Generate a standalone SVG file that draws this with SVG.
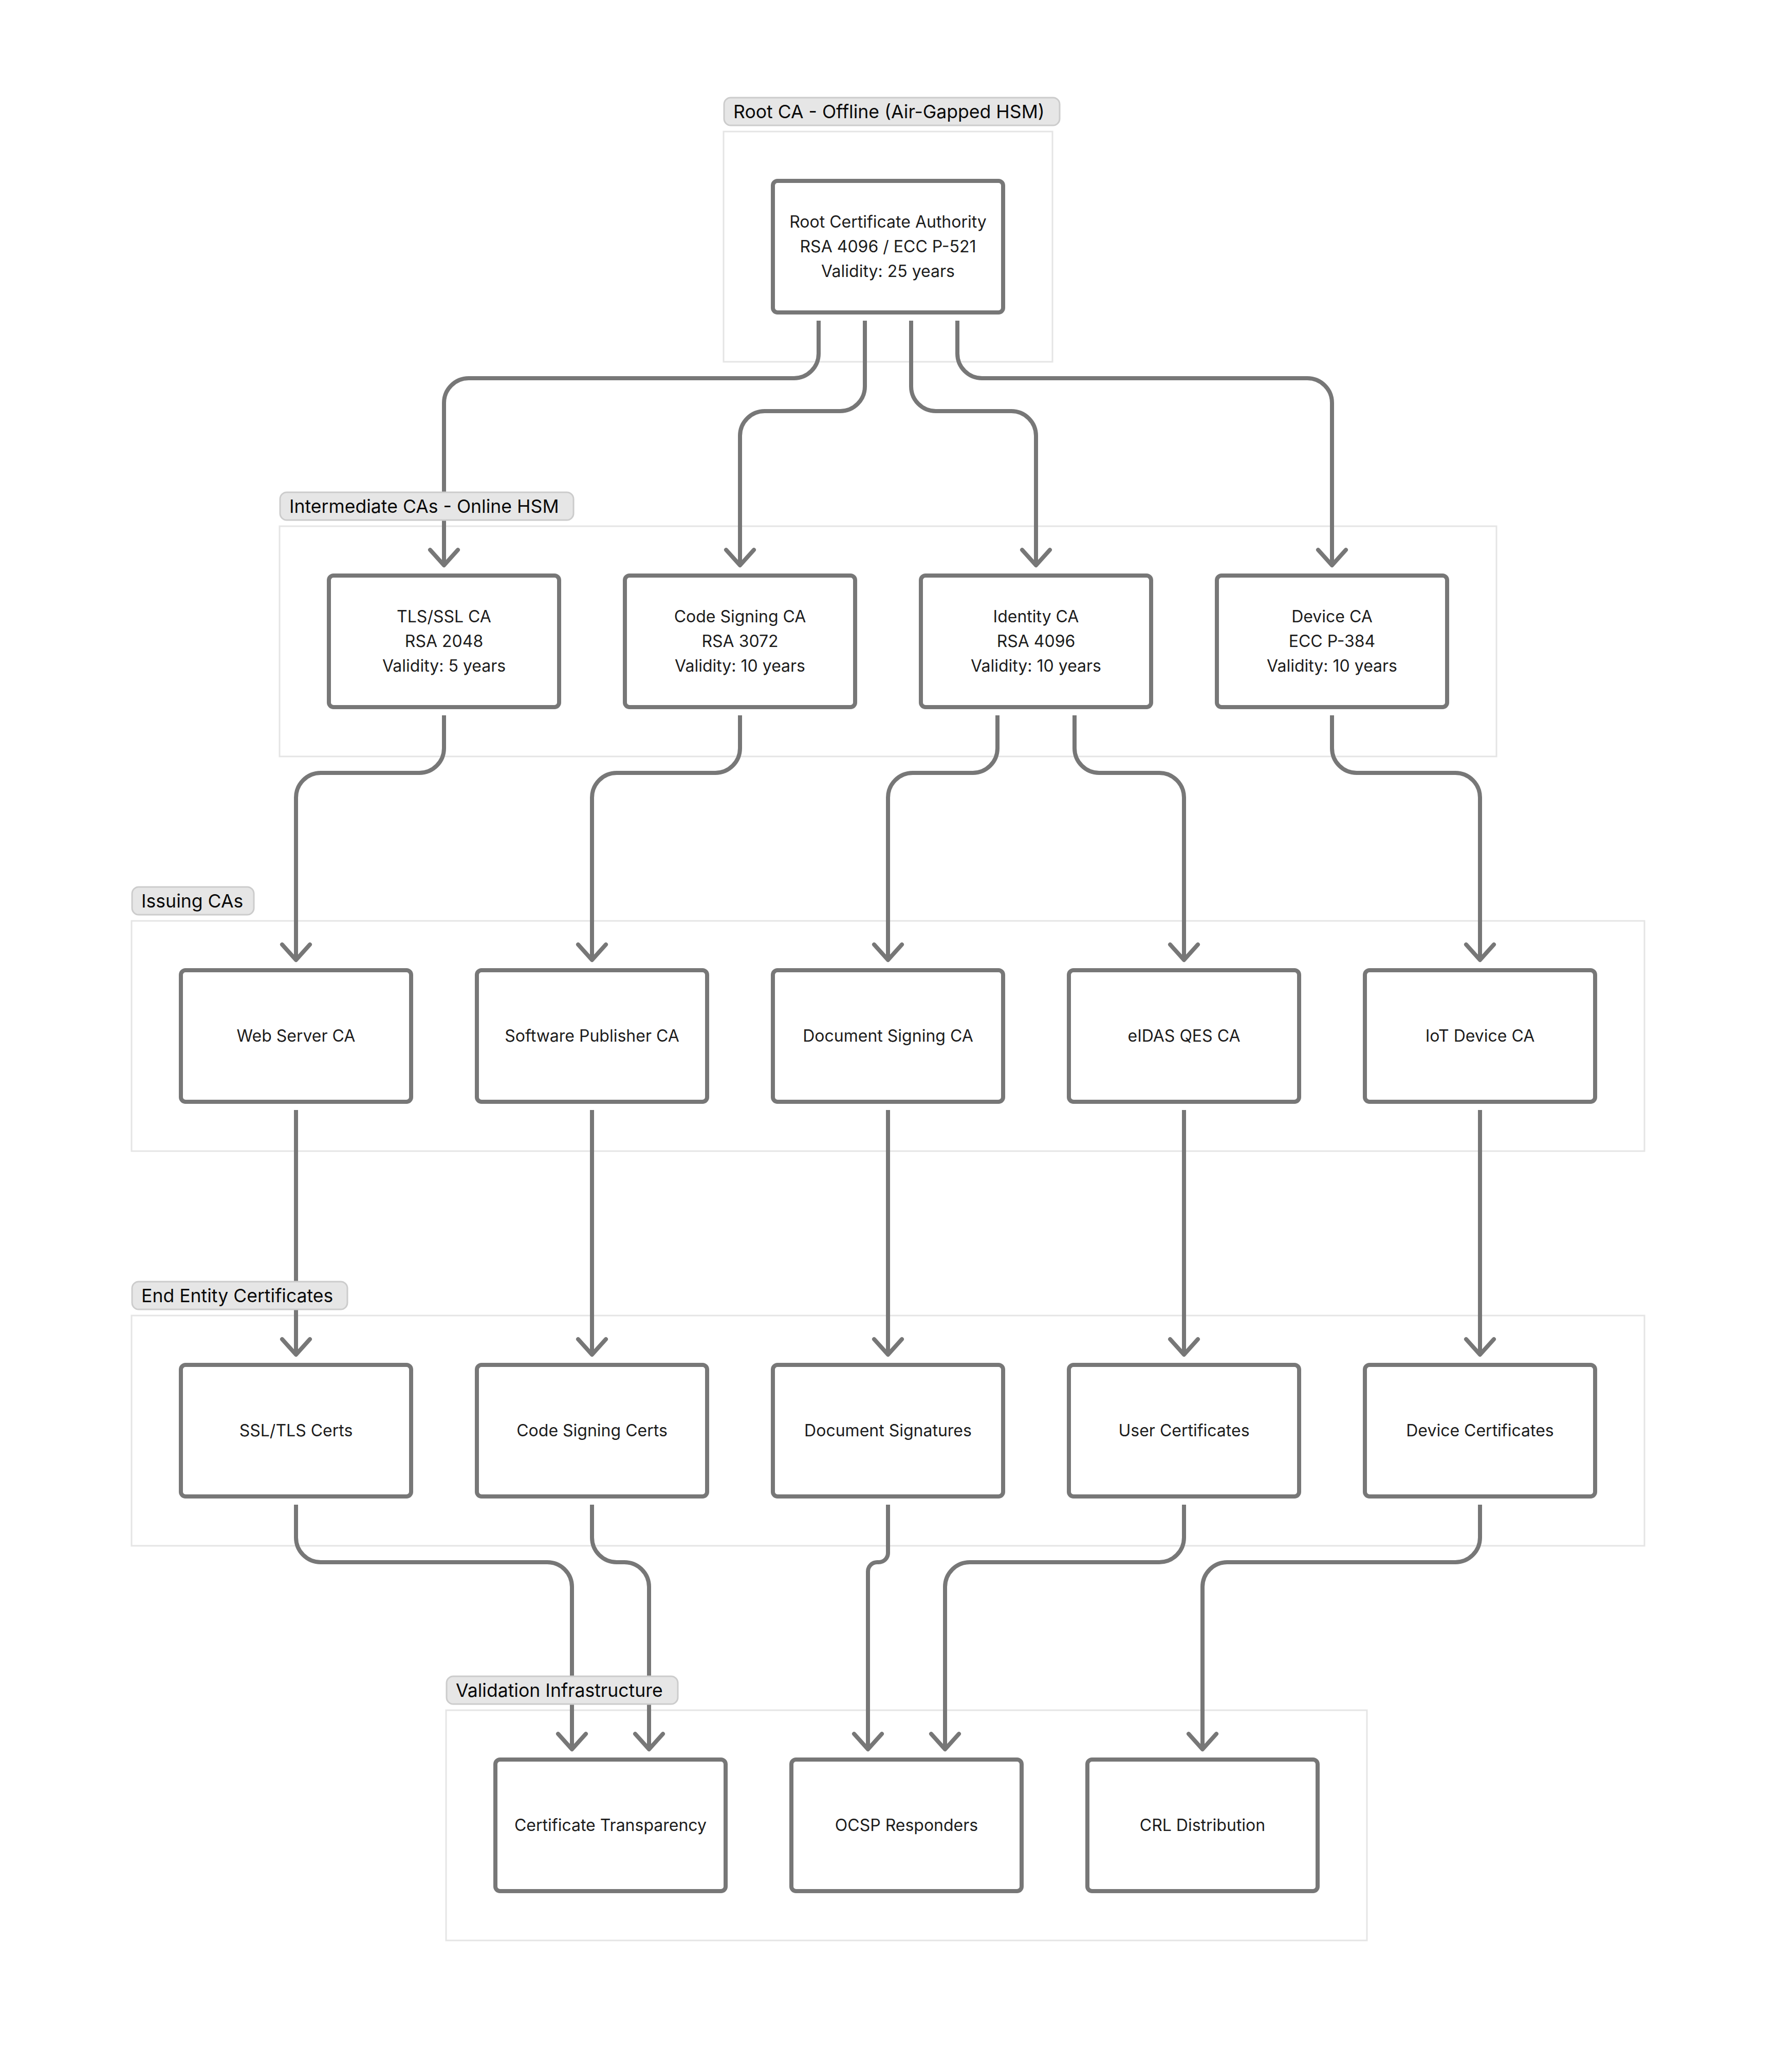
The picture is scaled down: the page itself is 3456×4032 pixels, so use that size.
<svg xmlns="http://www.w3.org/2000/svg" width="3456" height="4032" viewBox="0 0 3456 4032">
<defs>
<style>
.grp{fill:#ffffff;stroke:#e5e5e5;stroke-width:3}
.lbl{fill:#e6e6e6;stroke:#cccccc;stroke-width:3}
.lt{font-family:Inter,"Liberation Sans",sans-serif;font-size:35.6px;fill:#0a0a0a}
.nd{fill:#ffffff;stroke:#777777;stroke-width:8}
.nt{font-family:Inter,"Liberation Sans",sans-serif;font-size:32px;fill:#1c1c1c;text-anchor:middle}
.cn{fill:none;stroke:#777777;stroke-width:8;stroke-linejoin:round;marker-end:url(#arr)}
</style>
<marker id="arr" markerUnits="userSpaceOnUse" viewBox="-40 -40 80 80" markerWidth="80" markerHeight="80" refX="0" refY="0" orient="auto" overflow="visible">
<path d="M-30,-27 L0,0 L-30,27" fill="none" stroke="#777777" stroke-width="8" stroke-linecap="round" stroke-linejoin="round"/>
</marker>
</defs>
<rect width="3456" height="4032" fill="#ffffff"/>

<g id="groups">
<rect class="grp" x="1408" y="256" width="640" height="448"/>
<rect class="grp" x="544" y="1024" width="2368" height="448"/>
<rect class="grp" x="256" y="1792" width="2944" height="448"/>
<rect class="grp" x="256" y="2560" width="2944" height="448"/>
<rect class="grp" x="868" y="3328" width="1792" height="448"/>
</g>

<g id="connectors">
<path class="cn" d="M1593 624 V688 A48 48 0 0 1 1545 736 H912 A48 48 0 0 0 864 784 V1100"/>
<path class="cn" d="M1683 624 V752 A48 48 0 0 1 1635 800 H1488 A48 48 0 0 0 1440 848 V1100"/>
<path class="cn" d="M1773 624 V752 A48 48 0 0 0 1821 800 H1968 A48 48 0 0 1 2016 848 V1100"/>
<path class="cn" d="M1863 624 V688 A48 48 0 0 0 1911 736 H2544 A48 48 0 0 1 2592 784 V1100"/>
<path class="cn" d="M864 1392 V1456 A48 48 0 0 1 816 1504 H624 A48 48 0 0 0 576 1552 V1868"/>
<path class="cn" d="M1440 1392 V1456 A48 48 0 0 1 1392 1504 H1200 A48 48 0 0 0 1152 1552 V1868"/>
<path class="cn" d="M1941 1392 V1456 A48 48 0 0 1 1893 1504 H1776 A48 48 0 0 0 1728 1552 V1868"/>
<path class="cn" d="M2091 1392 V1456 A48 48 0 0 0 2139 1504 H2256 A48 48 0 0 1 2304 1552 V1868"/>
<path class="cn" d="M2592 1392 V1456 A48 48 0 0 0 2640 1504 H2832 A48 48 0 0 1 2880 1552 V1868"/>
<path class="cn" d="M576 2160 V2636"/>
<path class="cn" d="M1152 2160 V2636"/>
<path class="cn" d="M1728 2160 V2636"/>
<path class="cn" d="M2304 2160 V2636"/>
<path class="cn" d="M2880 2160 V2636"/>
<path class="cn" d="M576 2928 V2992 A48 48 0 0 0 624 3040 H1065 A48 48 0 0 1 1113 3088 V3404"/>
<path class="cn" d="M1152 2928 V2992 A48 48 0 0 0 1200 3040 H1215 A48 48 0 0 1 1263 3088 V3404"/>
<path class="cn" d="M1728 2928 V3022 A18 18 0 0 1 1710 3040 H1707 A18 18 0 0 0 1689 3058 V3404"/>
<path class="cn" d="M2304 2928 V2992 A48 48 0 0 1 2256 3040 H1887 A48 48 0 0 0 1839 3088 V3404"/>
<path class="cn" d="M2880 2928 V2992 A48 48 0 0 1 2832 3040 H2388 A48 48 0 0 0 2340 3088 V3404"/>
</g>

<g id="group-labels">
<g id="lbl-root"><rect class="lbl" x="1409" y="190" width="653" height="54" rx="13"/><text class="lt" x="1427" y="230">Root CA - Offline (Air-Gapped HSM)</text></g>
<g id="lbl-inter"><rect class="lbl" x="545" y="958" width="571" height="54" rx="13"/><text class="lt" x="563" y="998">Intermediate CAs - Online HSM</text></g>
<g id="lbl-issuing"><rect class="lbl" x="257" y="1726" width="237" height="54" rx="13"/><text class="lt" x="275" y="1766">Issuing CAs</text></g>
<g id="lbl-end"><rect class="lbl" x="257" y="2494" width="419" height="54" rx="13"/><text class="lt" x="275" y="2534">End Entity Certificates</text></g>
<g id="lbl-valid"><rect class="lbl" x="869" y="3262" width="450" height="54" rx="13"/><text class="lt" x="887" y="3302">Validation Infrastructure</text></g>
</g>

<g id="root-ca"><rect class="nd" x="1504" y="352" width="448" height="256" rx="9"/>
<text class="nt" x="1728" y="443">Root Certificate Authority</text><text class="nt" x="1728" y="491">RSA 4096 / ECC P-521</text><text class="nt" x="1728" y="539">Validity: 25 years</text></g>

<g id="tls-ca"><rect class="nd" x="640" y="1120" width="448" height="256" rx="9"/>
<text class="nt" x="864" y="1211">TLS/SSL CA</text><text class="nt" x="864" y="1259">RSA 2048</text><text class="nt" x="864" y="1307">Validity: 5 years</text></g>
<g id="codesign-ca"><rect class="nd" x="1216" y="1120" width="448" height="256" rx="9"/>
<text class="nt" x="1440" y="1211">Code Signing CA</text><text class="nt" x="1440" y="1259">RSA 3072</text><text class="nt" x="1440" y="1307">Validity: 10 years</text></g>
<g id="identity-ca"><rect class="nd" x="1792" y="1120" width="448" height="256" rx="9"/>
<text class="nt" x="2016" y="1211">Identity CA</text><text class="nt" x="2016" y="1259">RSA 4096</text><text class="nt" x="2016" y="1307">Validity: 10 years</text></g>
<g id="device-ca"><rect class="nd" x="2368" y="1120" width="448" height="256" rx="9"/>
<text class="nt" x="2592" y="1211">Device CA</text><text class="nt" x="2592" y="1259">ECC P-384</text><text class="nt" x="2592" y="1307">Validity: 10 years</text></g>

<g id="web-server-ca"><rect class="nd" x="352" y="1888" width="448" height="256" rx="9"/><text class="nt" x="576" y="2027">Web Server CA</text></g>
<g id="software-publisher-ca"><rect class="nd" x="928" y="1888" width="448" height="256" rx="9"/><text class="nt" x="1152" y="2027">Software Publisher CA</text></g>
<g id="document-signing-ca"><rect class="nd" x="1504" y="1888" width="448" height="256" rx="9"/><text class="nt" x="1728" y="2027">Document Signing CA</text></g>
<g id="eidas-qes-ca"><rect class="nd" x="2080" y="1888" width="448" height="256" rx="9"/><text class="nt" x="2304" y="2027">eIDAS QES CA</text></g>
<g id="iot-device-ca"><rect class="nd" x="2656" y="1888" width="448" height="256" rx="9"/><text class="nt" x="2880" y="2027">IoT Device CA</text></g>

<g id="ssl-tls-certs"><rect class="nd" x="352" y="2656" width="448" height="256" rx="9"/><text class="nt" x="576" y="2795">SSL/TLS Certs</text></g>
<g id="code-signing-certs"><rect class="nd" x="928" y="2656" width="448" height="256" rx="9"/><text class="nt" x="1152" y="2795">Code Signing Certs</text></g>
<g id="document-signatures"><rect class="nd" x="1504" y="2656" width="448" height="256" rx="9"/><text class="nt" x="1728" y="2795">Document Signatures</text></g>
<g id="user-certificates"><rect class="nd" x="2080" y="2656" width="448" height="256" rx="9"/><text class="nt" x="2304" y="2795">User Certificates</text></g>
<g id="device-certificates"><rect class="nd" x="2656" y="2656" width="448" height="256" rx="9"/><text class="nt" x="2880" y="2795">Device Certificates</text></g>

<g id="certificate-transparency"><rect class="nd" x="964" y="3424" width="448" height="256" rx="9"/><text class="nt" x="1188" y="3563">Certificate Transparency</text></g>
<g id="ocsp-responders"><rect class="nd" x="1540" y="3424" width="448" height="256" rx="9"/><text class="nt" x="1764" y="3563">OCSP Responders</text></g>
<g id="crl-distribution"><rect class="nd" x="2116" y="3424" width="448" height="256" rx="9"/><text class="nt" x="2340" y="3563">CRL Distribution</text></g>
</svg>
